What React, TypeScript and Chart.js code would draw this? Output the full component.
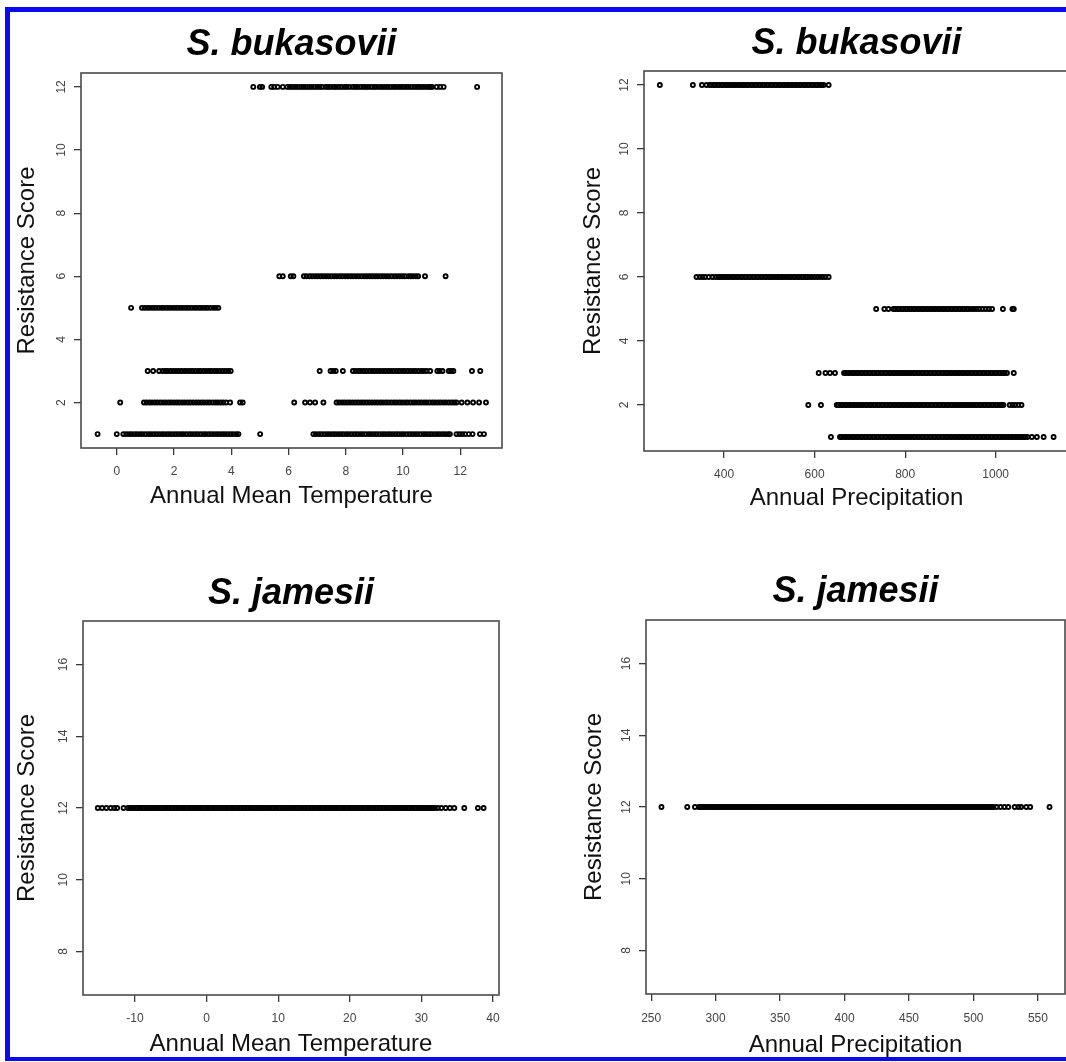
import { useEffect, useRef } from "react";
import { Chart, registerables } from "chart.js";

Chart.register(...registerables);

const FONT = "'Liberation Sans', Arial, Helvetica, sans-serif";

// ---------------- DATA ----------------
// Panel A: S. bukasovii, Annual Mean Temperature
const bukTempScore1 = [-0.67, 0.0, 0.23, 0.33, 0.43, 0.52, 0.62, 0.71, 0.81, 0.9, 1.0, 1.1, 1.19, 1.29, 1.38, 1.48, 1.58, 1.67, 1.77, 1.86, 1.96, 2.06, 2.15, 2.25, 2.34, 2.44, 2.54, 2.63, 2.73, 2.82, 2.92, 3.02, 3.11, 3.21, 3.3, 3.4, 3.5, 3.59, 3.69, 3.78, 3.88, 3.98, 4.07, 4.17, 4.25, 5.01, 6.87, 6.96, 7.06, 7.15, 7.25, 7.35, 7.44, 7.54, 7.63, 7.73, 7.83, 7.92, 8.02, 8.11, 8.21, 8.31, 8.4, 8.5, 8.59, 8.69, 8.79, 8.88, 8.98, 9.07, 9.17, 9.27, 9.36, 9.46, 9.55, 9.65, 9.75, 9.84, 9.94, 10.03, 10.13, 10.23, 10.32, 10.42, 10.51, 10.61, 10.71, 10.8, 10.9, 10.99, 11.09, 11.19, 11.28, 11.38, 11.47, 11.57, 11.64, 11.87, 11.97, 12.07, 12.17, 12.3, 12.43, 12.69, 12.83];
const bukTempScore2 = [0.12, 0.95, 1.04, 1.14, 1.23, 1.33, 1.42, 1.52, 1.62, 1.71, 1.81, 1.9, 2.0, 2.1, 2.19, 2.29, 2.38, 2.48, 2.57, 2.67, 2.77, 2.86, 2.96, 3.05, 3.15, 3.24, 3.34, 3.44, 3.53, 3.63, 3.72, 3.82, 3.96, 4.31, 4.4, 6.2, 6.58, 6.75, 6.93, 7.22, 7.68, 7.77, 7.87, 7.96, 8.06, 8.15, 8.25, 8.35, 8.44, 8.54, 8.63, 8.73, 8.82, 8.92, 9.02, 9.11, 9.21, 9.3, 9.4, 9.49, 9.59, 9.69, 9.78, 9.88, 9.97, 10.07, 10.16, 10.26, 10.36, 10.45, 10.55, 10.64, 10.74, 10.83, 10.93, 11.03, 11.12, 11.22, 11.31, 11.41, 11.5, 11.6, 11.7, 11.79, 11.87, 12.05, 12.25, 12.45, 12.66, 12.9];
const bukTempScore3 = [1.08, 1.27, 1.48, 1.6, 1.69, 1.78, 1.88, 1.97, 2.07, 2.17, 2.26, 2.36, 2.45, 2.55, 2.64, 2.74, 2.84, 2.93, 3.03, 3.12, 3.22, 3.31, 3.41, 3.5, 3.6, 3.7, 3.79, 3.89, 3.98, 7.09, 7.47, 7.56, 7.65, 7.9, 8.25, 8.34, 8.44, 8.53, 8.63, 8.72, 8.82, 8.92, 9.01, 9.11, 9.2, 9.3, 9.39, 9.49, 9.58, 9.68, 9.78, 9.87, 9.97, 10.06, 10.16, 10.25, 10.35, 10.44, 10.54, 10.64, 10.73, 10.83, 10.95, 11.2, 11.28, 11.38, 11.6, 11.68, 11.76, 12.41, 12.7];
const bukTempScore5 = [0.5, 0.88, 0.97, 1.07, 1.16, 1.26, 1.35, 1.45, 1.55, 1.64, 1.74, 1.83, 1.93, 2.03, 2.12, 2.22, 2.31, 2.41, 2.5, 2.6, 2.7, 2.79, 2.89, 2.98, 3.08, 3.17, 3.27, 3.37, 3.46, 3.55];
const bukTempScore6 = [5.68, 5.8, 6.08, 6.17, 6.54, 6.63, 6.74, 6.83, 6.93, 7.02, 7.12, 7.21, 7.31, 7.4, 7.5, 7.6, 7.69, 7.79, 7.88, 7.98, 8.07, 8.17, 8.26, 8.36, 8.45, 8.55, 8.65, 8.74, 8.84, 8.93, 9.03, 9.12, 9.22, 9.31, 9.41, 9.5, 9.6, 9.7, 9.79, 9.89, 9.98, 10.07, 10.19, 10.27, 10.35, 10.45, 10.53, 10.77, 11.49];
const bukTempScore12 = [4.77, 5.0, 5.08, 5.4, 5.5, 5.62, 5.8, 5.96, 6.05, 6.15, 6.24, 6.33, 6.44, 6.52, 6.61, 6.72, 6.8, 6.9, 7.0, 7.09, 7.18, 7.3, 7.38, 7.47, 7.58, 7.66, 7.76, 7.85, 7.96, 8.04, 8.13, 8.25, 8.33, 8.42, 8.53, 8.62, 8.71, 8.8, 8.9, 9.0, 9.08, 9.19, 9.27, 9.37, 9.46, 9.55, 9.66, 9.74, 9.84, 9.93, 10.02, 10.12, 10.2, 10.31, 10.4, 10.5, 10.58, 10.68, 10.77, 10.87, 10.95, 11.02, 11.18, 11.3, 11.42, 12.59];

// Panel B: S. bukasovii, Annual Precipitation
const bukPrecScore1 = [636, 656, 660, 665, 669, 674, 678, 683, 687, 692, 696, 701, 705, 710, 714, 719, 723, 728, 732, 737, 741, 746, 750, 755, 759, 764, 768, 773, 777, 782, 786, 791, 795, 800, 804, 809, 813, 818, 822, 827, 831, 836, 840, 845, 849, 854, 858, 863, 867, 872, 876, 881, 885, 890, 894, 899, 903, 908, 912, 917, 921, 926, 930, 935, 939, 944, 948, 953, 957, 962, 966, 971, 975, 980, 984, 989, 993, 998, 1002, 1007, 1011, 1016, 1020, 1025, 1029, 1034, 1038, 1043, 1047, 1052, 1056, 1061, 1065, 1070, 1080, 1091, 1106, 1128];
const bukPrecScore2 = [586, 614, 649, 653, 658, 662, 667, 671, 676, 680, 685, 689, 694, 698, 703, 707, 712, 716, 721, 725, 730, 734, 739, 743, 748, 752, 757, 761, 766, 770, 775, 779, 784, 788, 793, 797, 802, 806, 811, 815, 820, 824, 829, 833, 838, 842, 847, 851, 856, 860, 865, 869, 874, 878, 883, 887, 892, 896, 901, 905, 910, 914, 919, 923, 928, 932, 937, 941, 946, 950, 955, 959, 964, 968, 973, 977, 982, 986, 991, 995, 1000, 1004, 1009, 1013, 1017, 1031, 1037, 1043, 1050, 1057];
const bukPrecScore3 = [609, 624, 634, 645, 665, 669, 674, 678, 683, 687, 692, 696, 701, 705, 710, 714, 719, 723, 728, 732, 737, 741, 746, 750, 755, 759, 764, 768, 773, 777, 782, 786, 791, 795, 800, 804, 809, 813, 818, 822, 827, 831, 836, 840, 845, 849, 854, 858, 863, 867, 872, 876, 881, 885, 890, 894, 899, 903, 908, 912, 917, 921, 926, 930, 935, 939, 944, 948, 953, 957, 962, 966, 971, 975, 980, 984, 989, 993, 998, 1002, 1007, 1011, 1016, 1020, 1025, 1040];
const bukPrecScore5 = [736, 754, 763, 774, 778, 783, 787, 792, 796, 801, 805, 810, 814, 819, 823, 828, 832, 837, 841, 846, 850, 855, 859, 864, 868, 873, 877, 882, 886, 891, 895, 900, 904, 909, 913, 918, 922, 927, 931, 936, 940, 946, 952, 958, 964, 971, 978, 985, 992, 1016, 1037, 1040];
const bukPrecScore6 = [339, 346, 352, 358, 366, 374, 381, 387, 391, 395, 400, 404, 409, 413, 418, 422, 427, 431, 436, 440, 445, 449, 454, 458, 463, 467, 472, 476, 481, 485, 490, 494, 499, 503, 508, 512, 517, 521, 526, 530, 535, 539, 544, 548, 553, 557, 562, 566, 571, 575, 580, 584, 589, 594, 600, 606, 612, 618, 624, 631];
const bukPrecScore12 = [258, 331, 351, 361, 368, 372, 377, 381, 386, 390, 395, 399, 404, 408, 413, 417, 422, 426, 431, 435, 440, 444, 449, 453, 458, 462, 467, 471, 476, 480, 485, 489, 494, 498, 503, 507, 512, 516, 521, 525, 530, 534, 539, 543, 548, 552, 557, 561, 566, 570, 575, 579, 584, 588, 593, 597, 602, 606, 611, 616, 620, 631];

// Panel C: S. jamesii, Annual Mean Temperature (all score 12)
const jamTempScore12 = [-15.2, -14.6, -14.0, -13.4, -12.9, -12.5, -11.6, -11.0, -10.7, -10.4, -10.2, -9.9, -9.7, -9.4, -9.2, -8.9, -8.7, -8.4, -8.2, -7.9, -7.7, -7.4, -7.2, -6.9, -6.7, -6.4, -6.2, -5.9, -5.7, -5.4, -5.2, -4.9, -4.7, -4.4, -4.2, -3.9, -3.7, -3.4, -3.2, -2.9, -2.7, -2.4, -2.2, -1.9, -1.7, -1.4, -1.2, -0.9, -0.7, -0.4, -0.2, 0.1, 0.3, 0.6, 0.8, 1.1, 1.3, 1.6, 1.8, 2.1, 2.3, 2.6, 2.8, 3.1, 3.3, 3.6, 3.8, 4.1, 4.3, 4.6, 4.8, 5.1, 5.3, 5.6, 5.8, 6.1, 6.3, 6.6, 6.8, 7.1, 7.3, 7.6, 7.8, 8.1, 8.3, 8.6, 8.8, 9.1, 9.3, 9.6, 9.8, 10.1, 10.3, 10.6, 10.8, 11.1, 11.3, 11.6, 11.8, 12.1, 12.3, 12.6, 12.8, 13.1, 13.3, 13.6, 13.8, 14.1, 14.3, 14.6, 14.8, 15.1, 15.3, 15.6, 15.8, 16.1, 16.3, 16.6, 16.8, 17.1, 17.3, 17.6, 17.8, 18.1, 18.3, 18.6, 18.8, 19.1, 19.3, 19.6, 19.8, 20.1, 20.3, 20.6, 20.8, 21.1, 21.3, 21.6, 21.8, 22.1, 22.3, 22.6, 22.8, 23.1, 23.3, 23.6, 23.8, 24.1, 24.3, 24.6, 24.8, 25.1, 25.3, 25.6, 25.8, 26.1, 26.3, 26.6, 26.8, 27.1, 27.3, 27.6, 27.8, 28.1, 28.3, 28.6, 28.8, 29.1, 29.3, 29.6, 29.8, 30.1, 30.3, 30.6, 30.8, 31.1, 31.3, 31.6, 31.9, 32.3, 32.8, 33.4, 34.0, 34.6, 36.0, 37.9, 38.7];

// Panel D: S. jamesii, Annual Precipitation (all score 12)
const jamPrecScore12 = [258, 278, 284, 287, 288, 289.5, 290.5, 292, 293, 294.5, 295.5, 297, 298, 299.5, 300.5, 302, 303, 304.5, 305.5, 307, 308, 309.5, 310.5, 312, 313, 314.5, 315.5, 317, 318, 319.5, 320.5, 322, 323, 324.5, 325.5, 327, 328, 329.5, 330.5, 332, 333, 334.5, 335.5, 337, 338, 339.5, 340.5, 342, 343, 344.5, 345.5, 347, 348, 349.5, 350.5, 352, 353, 354.5, 355.5, 357, 358, 359.5, 360.5, 362, 363, 364.5, 365.5, 367, 368, 369.5, 370.5, 372, 373, 374.5, 375.5, 377, 378, 379.5, 380.5, 382, 383, 384.5, 385.5, 387, 388, 389.5, 390.5, 392, 393, 394.5, 395.5, 397, 398, 399.5, 400.5, 402, 403, 404.5, 405.5, 407, 408, 409.5, 410.5, 412, 413, 414.5, 415.5, 417, 418, 419.5, 420.5, 422, 423, 424.5, 425.5, 427, 428, 429.5, 430.5, 432, 433, 434.5, 435.5, 437, 438, 439.5, 440.5, 442, 443, 444.5, 445.5, 447, 448, 449.5, 450.5, 452, 453, 454.5, 455.5, 457, 458, 459.5, 460.5, 462, 463, 464.5, 465.5, 467, 468, 469.5, 470.5, 472, 473, 474.5, 475.5, 477, 478, 479.5, 480.5, 482, 483, 484.5, 485.5, 487, 488, 489.5, 490.5, 492, 493, 494.5, 495.5, 497, 498, 499.5, 500.5, 502, 503, 504.5, 505.5, 507, 508, 509.5, 510.5, 512, 513, 514.5, 515.5, 518, 521, 524, 527, 532, 535, 537, 541, 544, 559];

// Axis ticks and ranges
const scoreTicksBuk = [2, 4, 6, 8, 10, 12];
const scoreTicksJam = [8, 10, 12, 14, 16];
const tempTicksBuk = [0, 2, 4, 6, 8, 10, 12];
const precTicksBuk = [400, 600, 800, 1000];
const tempTicksJam = [-10, 0, 10, 20, 30, 40];
const precTicksJam = [250, 300, 350, 400, 450, 500, 550];
const scoreRangeBuk = [0.56, 12.44];
const scoreRangeJam = [6.784, 17.216];
const tempRangeBuk = [-1.25, 13.46];
const precRangeBuk = [223, 1162];
const tempRangeJam = [-17.27, 40.85];
const precRangeJam = [246, 571];

// ---------------- LAYOUT ----------------
interface PanelSpec {
  title: string;
  xLabel: string;
  rows: { score: number; values: number[] }[];
  xRange: number[];
  yRange: number[];
  xTicks: number[];
  yTicks: number[];
  frame: { left: number; top: number; width: number; height: number };
  padLeft: number;
  padRight: number;
  yAxisWidth: number;
  xAxisHeight: number;
  titlePadTop: number;
  titlePadBottom: number;
  xTitlePadBottom: number;
  yTitlePadTop: number;
  xTickPad: number;
  yTickPad: number;
}

const panels: PanelSpec[] = [
  {
    title: "S. bukasovii",
    xLabel: "Annual Mean Temperature",
    rows: [
      { score: 1, values: bukTempScore1 },
      { score: 2, values: bukTempScore2 },
      { score: 3, values: bukTempScore3 },
      { score: 5, values: bukTempScore5 },
      { score: 6, values: bukTempScore6 },
      { score: 12, values: bukTempScore12 },
    ],
    xRange: tempRangeBuk,
    yRange: scoreRangeBuk,
    xTicks: tempTicksBuk,
    yTicks: scoreTicksBuk,
    frame: { left: 10, top: 12, width: 523, height: 523 },
    padLeft: 0,
    padRight: 31,
    yAxisWidth: 71,
    xAxisHeight: 87,
    titlePadTop: 11,
    titlePadBottom: 6,
    xTitlePadBottom: 25,
    yTitlePadTop: 3,
    xTickPad: 10,
    yTickPad: 6,
  },
  {
    title: "S. bukasovii",
    xLabel: "Annual Precipitation",
    rows: [
      { score: 1, values: bukPrecScore1 },
      { score: 2, values: bukPrecScore2 },
      { score: 3, values: bukPrecScore3 },
      { score: 5, values: bukPrecScore5 },
      { score: 6, values: bukPrecScore6 },
      { score: 12, values: bukPrecScore12 },
    ],
    xRange: precRangeBuk,
    yRange: scoreRangeBuk,
    xTicks: precTicksBuk,
    yTicks: scoreTicksBuk,
    frame: { left: 533, top: 12, width: 550, height: 523 },
    padLeft: 40,
    padRight: 14,
    yAxisWidth: 71,
    xAxisHeight: 84,
    titlePadTop: 10,
    titlePadBottom: 5,
    xTitlePadBottom: 23,
    yTitlePadTop: 6,
    xTickPad: 10,
    yTickPad: 6,
  },
  {
    title: "S. jamesii",
    xLabel: "Annual Mean Temperature",
    rows: [{ score: 12, values: jamTempScore12 }],
    xRange: tempRangeJam,
    yRange: scoreRangeJam,
    xTicks: tempTicksJam,
    yTicks: scoreTicksJam,
    frame: { left: 10, top: 540, width: 523, height: 522 },
    padLeft: 0,
    padRight: 34,
    yAxisWidth: 73,
    xAxisHeight: 67,
    titlePadTop: 32,
    titlePadBottom: 5,
    xTitlePadBottom: 4,
    yTitlePadTop: 3,
    xTickPad: 10,
    yTickPad: 6,
  },
  {
    title: "S. jamesii",
    xLabel: "Annual Precipitation",
    rows: [{ score: 12, values: jamPrecScore12 }],
    xRange: precRangeJam,
    yRange: scoreRangeJam,
    xTicks: precTicksJam,
    yTicks: scoreTicksJam,
    frame: { left: 533, top: 540, width: 550, height: 522 },
    padLeft: 44,
    padRight: 18,
    yAxisWidth: 69,
    xAxisHeight: 68,
    titlePadTop: 30,
    titlePadBottom: 6,
    xTitlePadBottom: 3,
    yTitlePadTop: 3,
    xTickPad: 11,
    yTickPad: 6,
  },
];

const boxPlugin = {
  id: "rPlotBox",
  afterDraw(chart: any) {
    const { ctx, chartArea: a } = chart;
    ctx.save();
    ctx.strokeStyle = "#4a4a4a";
    ctx.lineWidth = 1.6;
    ctx.strokeRect(a.left, a.top, a.right - a.left, a.bottom - a.top);
    ctx.restore();
  },
};

function Panel({ spec }: { spec: PanelSpec }) {
  const ref = useRef<HTMLCanvasElement>(null);
  useEffect(() => {
    if (!ref.current) return;
    const points = spec.rows.flatMap((r) => r.values.map((v) => ({ x: v, y: r.score })));
    const chart = new Chart(ref.current, {
      type: "scatter",
      data: {
        datasets: [
          {
            data: points,
            pointStyle: "circle",
            pointRadius: 2.0,
            pointHoverRadius: 2.0,
            pointBorderWidth: 1.9,
            borderWidth: 1.9,
            pointBorderColor: "#000",
            borderColor: "#000",
            pointBackgroundColor: "rgba(0,0,0,0)",
            backgroundColor: "rgba(0,0,0,0)",
          },
        ],
      },
      options: {
        animation: false,
        responsive: false,
        devicePixelRatio: 1,
        events: [],
        layout: {
          autoPadding: false,
          padding: { left: spec.padLeft, right: spec.padRight, top: 0, bottom: 0 },
        },
        plugins: {
          legend: { display: false },
          tooltip: { enabled: false },
          title: {
            display: true,
            text: spec.title,
            fullSize: false,
            color: "#000",
            font: { family: FONT, size: 36, weight: "bold", style: "italic", lineHeight: "44px" },
            padding: { top: spec.titlePadTop, bottom: spec.titlePadBottom },
          },
        },
        scales: {
          x: {
            type: "linear",
            min: spec.xRange[0],
            max: spec.xRange[1],
            bounds: "data",
            afterFit: (s: any) => {
              s.height = spec.xAxisHeight;
            },
            afterBuildTicks: (ax: any) => {
              ax.ticks = spec.xTicks.map((v) => ({ value: v }));
            },
            grid: {
              display: true,
              drawOnChartArea: false,
              drawTicks: true,
              tickLength: 7,
              color: "#3a3a3a",
              lineWidth: 1.3,
            },
            border: { display: false },
            ticks: {
              color: "#444",
              font: { family: FONT, size: 12, lineHeight: "14px" },
              padding: spec.xTickPad,
              autoSkip: false,
              minRotation: 0,
              maxRotation: 0,
              callback: (v: any) => String(v),
            },
            title: {
              display: true,
              text: spec.xLabel,
              color: "#111",
              font: { family: FONT, size: 24, lineHeight: "28px" },
              padding: { top: 0, bottom: spec.xTitlePadBottom },
            },
          },
          y: {
            type: "linear",
            min: spec.yRange[0],
            max: spec.yRange[1],
            bounds: "data",
            afterFit: (s: any) => {
              s.width = spec.yAxisWidth;
            },
            afterBuildTicks: (ax: any) => {
              ax.ticks = spec.yTicks.map((v) => ({ value: v }));
            },
            grid: {
              display: true,
              drawOnChartArea: false,
              drawTicks: true,
              tickLength: 7,
              color: "#3a3a3a",
              lineWidth: 1.3,
            },
            border: { display: false },
            ticks: {
              color: "#444",
              font: { family: FONT, size: 12, lineHeight: "14px" },
              padding: spec.yTickPad,
              autoSkip: false,
              minRotation: 90,
              maxRotation: 90,
              crossAlign: "center",
              callback: (v: any) => String(v),
            },
            title: {
              display: true,
              text: "Resistance Score",
              color: "#111",
              font: { family: FONT, size: 24, lineHeight: "28px" },
              padding: { top: spec.yTitlePadTop, bottom: 0 },
            },
          },
        },
      },
      plugins: [boxPlugin],
    } as any);
    return () => chart.destroy();
  }, [spec]);
  const f = spec.frame;
  return (
    <canvas
      ref={ref}
      width={f.width}
      height={f.height}
      style={{ position: "absolute", left: f.left, top: f.top, width: f.width, height: f.height }}
    />
  );
}

export default function App() {
  return (
    <div
      style={{
        position: "absolute",
        left: 0,
        top: 0,
        width: 1066,
        height: 1062,
        overflow: "hidden",
        background: "#fff",
      }}
    >
      {panels.map((p, i) => (
        <Panel key={i} spec={p} />
      ))}
      <div
        style={{
          position: "absolute",
          left: 5,
          top: 7,
          width: 1200,
          height: 1054,
          boxSizing: "border-box",
          borderTop: "5px solid #0a0af0",
          borderLeft: "5px solid #0a0af0",
          borderBottom: "4px solid #0a0af0",
          pointerEvents: "none",
        }}
      />
    </div>
  );
}
